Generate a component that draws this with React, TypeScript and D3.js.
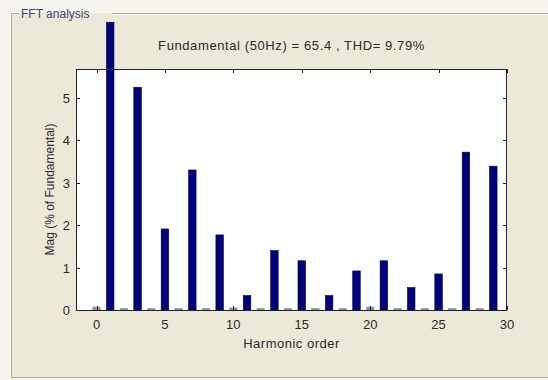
import * as d3 from "d3";
import { useEffect, useRef } from "react";

// harmonic order (0 = DC) and magnitude in % of fundamental
const harmonicOrder = [
  0, 1, 2, 3, 4, 5, 6, 7, 8, 9, 10, 11, 12, 13, 14, 15, 16, 17, 18, 19, 20, 21,
  22, 23, 24, 25, 26, 27, 28, 29,
];
const magnitude = [
  0.07, 100, 0.04, 5.25, 0.04, 1.91, 0.04, 3.3, 0.04, 1.77, 0.05, 0.34, 0.04,
  1.4, 0.04, 1.16, 0.04, 0.34, 0.04, 0.92, 0.07, 1.16, 0.04, 0.53, 0.04, 0.85,
  0.04, 3.72, 0.04, 3.39,
];
const xTicks = [0, 5, 10, 15, 20, 25, 30];
const yTicks = [0, 1, 2, 3, 4, 5];

const chartTitle = "Fundamental (50Hz) = 65.4 , THD= 9.79%";
const panelTitle = "FFT analysis";

const W = 548,
  H = 380;
const FONT = "'Liberation Sans', Arial, sans-serif";

const App = () => {
  const ref = useRef<SVGSVGElement>(null);

  useEffect(() => {
    const svg = d3.select(ref.current);
    svg.selectAll("*").remove();

    // plot box
    const left = 76,
      right = 507,
      top = 69,
      bottom = 310;

    // outer background + group box (etched frame, top line broken by the label)
    svg.append("rect").attr("width", W).attr("height", H).attr("fill", "#f6f5ef");
    svg
      .append("rect")
      .attr("x", 11)
      .attr("y", 13)
      .attr("width", W)
      .attr("height", 365)
      .attr("fill", "#ece9d8");
    const frame = svg.append("g").attr("stroke", "#aeab9c").attr("fill", "none");
    frame.append("line").attr("x1", 11.5).attr("x2", 11.5).attr("y1", 13).attr("y2", 378);
    frame.append("line").attr("x1", 11).attr("x2", W).attr("y1", 377.5).attr("y2", 377.5);
    frame.append("line").attr("x1", 11).attr("x2", 19).attr("y1", 13.5).attr("y2", 13.5);
    frame.append("line").attr("x1", 112).attr("x2", W).attr("y1", 13.5).attr("y2", 13.5);
    svg
      .append("line")
      .attr("x1", 112)
      .attr("x2", W)
      .attr("y1", 14.5)
      .attr("y2", 14.5)
      .attr("stroke", "#fbfaf5");
    svg
      .append("text")
      .attr("x", 21)
      .attr("y", 18)
      .attr("font-family", FONT)
      .attr("font-size", 12)
      .attr("fill", "#3c4670")
      .text(panelTitle);

    const x = d3.scaleLinear().domain([-1.5, 30]).range([left, right]);
    const y = d3.scaleLinear().domain([0, 5.68]).range([bottom, top]);

    svg
      .append("rect")
      .attr("x", left)
      .attr("y", top)
      .attr("width", right - left)
      .attr("height", bottom - top)
      .attr("fill", "#fff");

    // bars (fundamental runs off the axes and is cut near the panel top)
    svg
      .append("clipPath")
      .attr("id", "barclip")
      .append("rect")
      .attr("x", 0)
      .attr("y", 22)
      .attr("width", W)
      .attr("height", bottom - 22);

    const bw = x(0.55) - x(0);
    svg
      .append("g")
      .attr("clip-path", "url(#barclip)")
      .selectAll("rect")
      .data(harmonicOrder)
      .join("rect")
      .attr("x", (d) => x(d) - bw / 2)
      .attr("y", (d, i) => y(magnitude[i]))
      .attr("width", bw)
      .attr("height", (d, i) => bottom - y(magnitude[i]))
      .attr("fill", (d, i) => (magnitude[i] < 0.1 ? "#8a8a9a" : "#00007c"))
      .attr("stroke", (d, i) => (magnitude[i] < 0.1 ? "#9a9aa6" : "#000048"))
      .attr("stroke-width", 0.6);

    // axes box, ticks inside on all sides
    const axes = svg.append("g").attr("stroke", "#222").attr("fill", "none");
    axes
      .append("rect")
      .attr("x", left + 0.5)
      .attr("y", top + 0.5)
      .attr("width", right - left - 1)
      .attr("height", bottom - top);
    const tl = 4;
    xTicks.forEach((t) => {
      const px = Math.round(x(t)) + 0.5;
      axes.append("line").attr("x1", px).attr("x2", px).attr("y1", bottom).attr("y2", bottom - tl);
      axes.append("line").attr("x1", px).attr("x2", px).attr("y1", top).attr("y2", top + tl);
    });
    yTicks.forEach((t) => {
      const py = Math.round(y(t)) + 0.5;
      axes.append("line").attr("x1", left).attr("x2", left + tl).attr("y1", py).attr("y2", py);
      axes.append("line").attr("x1", right).attr("x2", right - tl).attr("y1", py).attr("y2", py);
    });

    const txt = svg
      .append("g")
      .attr("font-family", FONT)
      .attr("fill", "#2a2a2a")
      .attr("font-size", 12);

    txt
      .selectAll(".xt")
      .data(xTicks)
      .join("text")
      .attr("x", (d) => x(d))
      .attr("y", bottom + 19)
      .attr("text-anchor", "middle")
      .attr("font-size", 13)
      .text((d) => d);

    txt
      .selectAll(".yt")
      .data(yTicks)
      .join("text")
      .attr("x", left - 6)
      .attr("y", (d) => y(d) + 5)
      .attr("text-anchor", "end")
      .attr("font-size", 13)
      .text((d) => d);

    txt
      .append("text")
      .attr("x", (left + right) / 2)
      .attr("y", bottom + 38)
      .attr("text-anchor", "middle")
      .attr("font-size", 13)
      .attr("letter-spacing", 0.5)
      .text("Harmonic order");

    txt
      .append("text")
      .attr("transform", `translate(54,${(top + bottom) / 2}) rotate(-90)`)
      .attr("text-anchor", "middle")
      .attr("font-size", 12)
      .text("Mag (% of Fundamental)");

    txt
      .append("text")
      .attr("x", (left + right) / 2)
      .attr("y", 50)
      .attr("text-anchor", "middle")
      .attr("font-size", 13)
      .attr("letter-spacing", 0.6)
      .text(chartTitle);
  }, []);

  return (
    <div style={{ position: "fixed", left: 0, top: 0 }}>
      <svg width={W} height={H} ref={ref} style={{ display: "block" }} />
    </div>
  );
};

export default App;
